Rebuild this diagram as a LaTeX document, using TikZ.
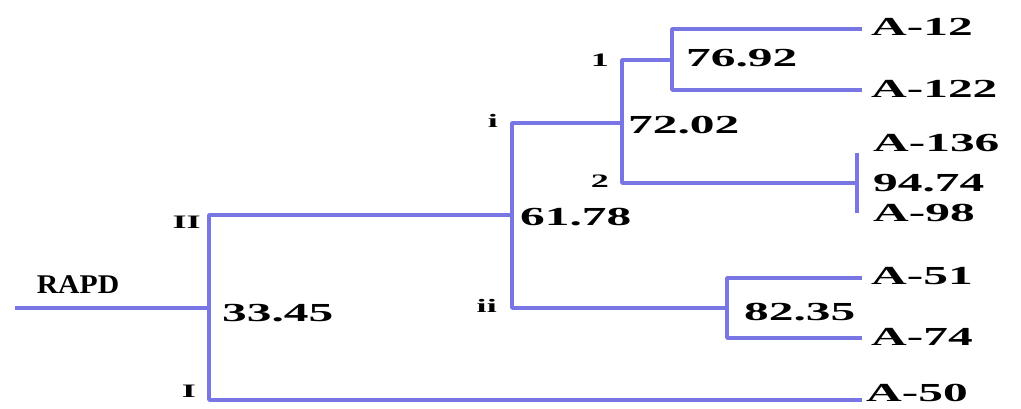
\documentclass[tikz,border=0pt]{standalone}
\usepackage{fontspec}
\setmainfont{Liberation Serif}
\newfontfamily\wideserif[FakeStretch=1.9]{Liberation Serif}
\newfontfamily\rapdserif[FakeStretch=1.1]{Liberation Serif}
\definecolor{branch}{RGB}{120,118,228}
\begin{document}
\begin{tikzpicture}[x=1pt,y=-1pt,
  br/.style={draw=branch,line width=3.8pt,line join=round},
  lab/.style={font=\wideserif\bfseries\fontsize{26}{26}\selectfont,inner sep=0pt,anchor=west},
  val/.style={font=\wideserif\bfseries\fontsize{26}{26}\selectfont,inner sep=0pt,anchor=west},
  cl/.style={font=\wideserif\bfseries\fontsize{19}{19}\selectfont,inner sep=0pt,anchor=east}]
\useasboundingbox (0,0) rectangle (1021,408);
% junction coordinates
\coordinate (r0) at (15,308);
\coordinate (n0) at (209,308);
\coordinate (jII) at (209,215);
\coordinate (jI) at (209,400);
\coordinate (n1) at (512,215);
\coordinate (ji) at (512,123);
\coordinate (jii) at (512,308);
\coordinate (n2) at (622,123);
\coordinate (j1) at (622,60);
\coordinate (j2) at (622,183);
\coordinate (n3) at (672,60);
\coordinate (n4) at (857,183);
\coordinate (n5) at (727,308);
% leaf labels
\node[lab] (a12) at (871,27) {A-12};
\node[lab] (a122) at (871,89) {A-122};
\node[lab] (a136) at (873,143) {A-136};
\node[lab] (a98) at (873,213) {A-98};
\node[lab] (a51) at (871,276) {A-51};
\node[lab] (a74) at (871,337) {A-74};
\node[lab] (a50) at (866,393) {A-50};
\coordinate (t136) at (857,153);
\coordinate (t98) at (857,213);
\coordinate (e12) at (862,29);
\coordinate (e122) at (862,90);
\coordinate (e51) at (862,278);
\coordinate (e74) at (862,338);
\coordinate (e50) at (862,400);
% branches
\draw[br] (r0) -- (n0);
\draw[br] (n1) -- (jII) -- (jI) -- (e50);
\draw[br] (n2) -- (ji) -- (jii) -- (n5);
\draw[br] (n3) -- (j1) -- (j2) -- (n4);
\draw[br] (e12) -| (n3) |- (e122);
\draw[br] (t136) -- (t98);
\draw[br] (e51) -| (n5) |- (e74);
% values
\node[font=\rapdserif\bfseries\fontsize{27}{27}\selectfont,inner sep=0pt] (rapd) at (78,285) {RAPD};
\node[val] (v1) at (222,313) {33.45};
\node[val] (v2) at (520,217) {61.78};
\node[val] (v3) at (628,125) {72.02};
\node[val] (v4) at (686,58) {76.92};
\node[val] (v5) at (744,312) {82.35};
\node[val] (v6) at (873,183) {94.74};
% cluster labels
\node[cl] (cII) at (201,222) {II};
\node[cl] (cI) at (196,391) {I};
\node[cl] (ci) at (498,121) {i};
\node[cl] (cii) at (497,306) {ii};
\node[cl] (c1) at (609,60) {1};
\node[cl] (c2) at (609,181) {2};
\end{tikzpicture}
\end{document}
